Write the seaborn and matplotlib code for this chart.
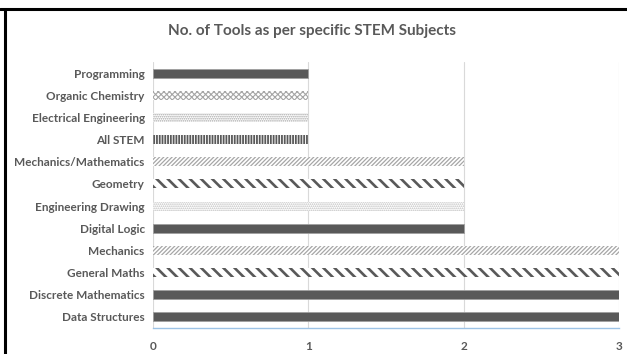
import matplotlib
matplotlib.use("Agg")
import matplotlib.pyplot as plt
import seaborn as sns
from matplotlib.lines import Line2D

# Data (top to bottom)
subjects = ["Programming", "Organic Chemistry", "Electrical Engineering", "All STEM",
            "Mechanics/Mathematics", "Geometry", "Engineering Drawing", "Digital Logic",
            "Mechanics", "General Maths", "Discrete Mathematics", "Data Structures"]
num_tools = [1, 1, 1, 1, 2, 2, 2, 2, 3, 3, 3, 3]
x_ticks = [0, 1, 2, 3]

# Fill style per bar (hatch, colour, hatch width); None hatch = solid
styles = [(None, "#595959", 0), ("xxxxxx", "#a6a6a6", 0.8), ("........", "#a6a6a6", 0.8),
          ("||||||", "#595959", 1.3), ("////////", "#a6a6a6", 0.9), ("\\\\\\", "#595959", 1.9),
          ("........", "#bfbfbf", 0.8), (None, "#595959", 0), ("////////", "#a6a6a6", 0.9),
          ("\\\\\\", "#595959", 1.9), (None, "#595959", 0), (None, "#595959", 0)]

sns.set_style("white")
plt.rcParams["font.family"] = ["Lato", "DejaVu Sans"]
plt.rcParams["hatch.linewidth"] = 1.0

fig = plt.figure(figsize=(6.27, 3.54), dpi=100)
ax = fig.add_axes([153 / 627, 1 - 328 / 354, 466 / 627, 266 / 354])

sns.barplot(x=num_tools, y=subjects, orient="h", color="#595959", width=0.4, ax=ax)

for patch, (hatch, col, hw) in zip(ax.patches, styles):
    if hatch is None:
        patch.set_facecolor(col)
        patch.set_edgecolor("#a0a0a0")
        patch.set_linewidth(0.6)
    else:
        patch.set_facecolor("white")
        patch.set_edgecolor(col)
        patch.set_hatch(hatch)
        patch.set_linewidth(0)
        if hasattr(patch, "set_hatch_linewidth"):
            patch.set_hatch_linewidth(hw)

ax.set_xlim(0, 3)
ax.set_ylim(11.5, -0.5)
ax.set_xticks(x_ticks)
ax.set_xticklabels([str(t) for t in x_ticks], fontsize=8.5, fontweight="bold", color="#595959")
ax.tick_params(axis="y", labelsize=8.5, labelcolor="#595959", length=0, pad=6)
ax.tick_params(axis="x", length=0, pad=9)
for lbl in ax.get_yticklabels():
    lbl.set_fontweight("bold")
ax.set_xlabel("")
ax.set_ylabel("")

ax.grid(axis="x", color="#d9d9d9", linewidth=0.8)
ax.set_axisbelow(True)
for side in ["top", "right", "left"]:
    ax.spines[side].set_visible(False)
ax.spines["bottom"].set_color("#9dc3e6")
ax.spines["bottom"].set_linewidth(1.0)

fig.text(312 / 627, 1 - 31 / 354, "No. of Tools as per specific STEM Subjects",
         ha="center", va="center", fontsize=11, fontweight="bold", color="#595959")

# Frame lines visible at top and left of the screenshot
fig.add_artist(Line2D([0, 1], [1 - 9 / 354, 1 - 9 / 354], transform=fig.transFigure,
                      color="black", linewidth=2.2))
fig.add_artist(Line2D([5 / 627, 5 / 627], [0, 1 - 9 / 354], transform=fig.transFigure,
                      color="black", linewidth=2.2))

fig.savefig("out.png", dpi=100)
